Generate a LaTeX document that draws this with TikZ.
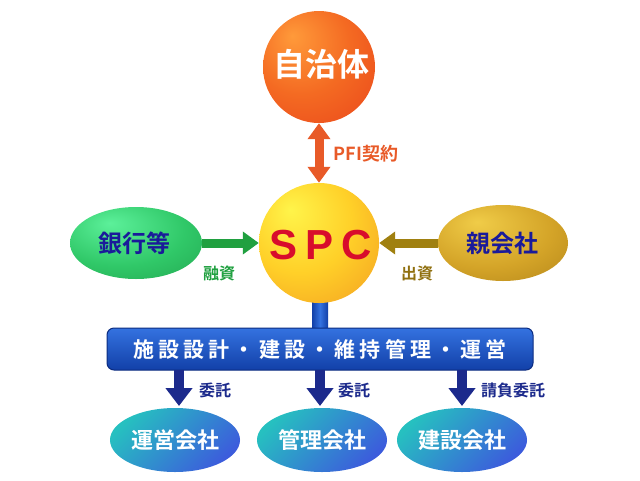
\documentclass[tikz,border=0pt]{standalone}
\usepackage{fontspec}
\newfontfamily\cjk{Noto Sans CJK JP}[BoldFont={Noto Sans CJK JP Bold}]
\newfontfamily\latinb{Liberation Sans}
\usetikzlibrary{arrows.meta,shapes.geometric}
\definecolor{orA}{HTML}{FF9A3A}
\definecolor{orB}{HTML}{F46A22}
\definecolor{orC}{HTML}{E8401A}
\definecolor{yeA}{HTML}{FFF44A}
\definecolor{yeB}{HTML}{FFD028}
\definecolor{yeC}{HTML}{F09020}
\definecolor{grA}{HTML}{5CF09A}
\definecolor{grB}{HTML}{30C868}
\definecolor{grC}{HTML}{1E9A48}
\definecolor{goA}{HTML}{F0CC48}
\definecolor{goB}{HTML}{D4A428}
\definecolor{goC}{HTML}{A87A14}
\definecolor{pficol}{HTML}{E85A28}
\definecolor{fincol}{HTML}{20A040}
\definecolor{invcol}{HTML}{A08010}
\definecolor{invtxt}{HTML}{907010}
\definecolor{navy}{HTML}{1C2A8C}
\definecolor{txtblue}{HTML}{1A1A9A}
\definecolor{barA}{HTML}{3472E0}
\definecolor{barB}{HTML}{1240A8}
\definecolor{barE}{HTML}{0C2C80}
\definecolor{tealA}{HTML}{26C0C0}
\definecolor{tealB}{HTML}{3C5CDC}
\definecolor{spcred}{HTML}{D80C2C}
\pgfdeclareradialshading{orangeball}{\pgfpoint{-12bp}{14bp}}{color(0bp)=(orA); color(22bp)=(orB); color(48bp)=(orC); color(70bp)=(orC)}
\pgfdeclareradialshading{yellowball}{\pgfpoint{-12bp}{14bp}}{color(0bp)=(yeA); color(22bp)=(yeB); color(50bp)=(yeC); color(70bp)=(yeC)}
\pgfdeclareradialshading{greenball}{\pgfpoint{-10bp}{14bp}}{color(0bp)=(grA); color(25bp)=(grB); color(52bp)=(grC); color(70bp)=(grC)}
\pgfdeclareradialshading{goldball}{\pgfpoint{-10bp}{14bp}}{color(0bp)=(goA); color(25bp)=(goB); color(52bp)=(goC); color(70bp)=(goC)}
\tikzset{
  sphere/.style={circle, inner sep=0pt},
  oval/.style={ellipse, inner sep=0pt, minimum width=132pt, minimum height=72pt},
  company/.style={ellipse, inner sep=0pt, minimum width=130pt, minimum height=64pt,
     left color=tealA, right color=tealB, shading angle=45,
     font=\cjk\bfseries\fontsize{22}{22}\selectfont, text=white},
  fatarrow/.style={line width=9pt, -{Triangle[width=22pt,length=16pt]}},
  downarrow/.style={draw=navy, line width=10pt, -{Triangle[width=26pt,length=18pt]}},
  lbl/.style={font=\cjk\bfseries\fontsize{16}{16}\selectfont, inner sep=0pt}
}
\begin{document}
\begin{tikzpicture}[x=1pt, y=-1pt]
\useasboundingbox (0,0) rectangle (640,480);
% spheres
\node[sphere, minimum size=112pt, shading=orangeball] (gov) at (319,67) {};
\node[font=\cjk\bfseries\fontsize{32}{32}\selectfont, text=white] at (321,64) {自治体};
% stem from SPC to bar
\node[rectangle, minimum width=16pt, minimum height=40pt, inner sep=0pt, left color=barB, right color=barB, middle color=barA] (stem) at (320,312) {};
\node[sphere, minimum size=120pt, shading=yellowball] (spc) at (319,243) {};
\node[font=\latinb\bfseries\fontsize{42}{42}\selectfont, text=spcred] at (321,245) {S\hspace{8pt}P\hspace{8pt}C};
% side ovals
\node[oval, shading=greenball] (bank) at (136,243) {};
\node[font=\cjk\bfseries\fontsize{24}{24}\selectfont, text=txtblue] at (134,243) {銀行等};
\node[oval, minimum width=130pt, minimum height=76pt, shading=goldball] (parent) at (503,243) {};
\node[font=\cjk\bfseries\fontsize{24}{24}\selectfont, text=txtblue] at (502,243) {親会社};
% arrows to SPC
\draw[fatarrow, draw=pficol, {Triangle[width=22pt,length=16pt]}-{Triangle[width=22pt,length=16pt]}] (gov.south) -- (spc.north);
\node[lbl, text=pficol, font=\cjk\bfseries\fontsize{18}{18}\selectfont] at (366,154) {PFI契約};
\draw[fatarrow, draw=fincol] (bank.east) -- (spc.west);
\node[lbl, text=fincol] at (219,273) {融資};
\draw[fatarrow, draw=invcol] (parent.west) -- (spc.east);
\node[lbl, text=invtxt] at (417,273) {出資};
% bar
\node[rectangle, rounded corners=7pt, minimum width=426pt, minimum height=42pt, inner sep=0pt,
      top color=barA, bottom color=barB, draw=barE, line width=1pt] (bar) at (320,349) {};
\node[font=\cjk\bfseries\fontsize{21}{21}\selectfont\addfontfeature{LetterSpace=20}, text=white] at (320,349) {施設設計・建設・維持管理・運営};
% bottom companies
\node[company] (op) at (175,440) {運営会社};
\node[company] (mg) at (322,440) {管理会社};
\node[company] (co) at (462,440) {建設会社};
\coordinate (b1) at (179,370);
\coordinate (b2) at (320,370);
\coordinate (b3) at (462,370);
\coordinate (t1) at (179,406);
\coordinate (t2) at (320,406);
\coordinate (t3) at (462,406);
\draw[downarrow] (b1) -- (t1);
\draw[downarrow] (b2) -- (t2);
\draw[downarrow] (b3) -- (t3);
\node[lbl, text=navy] at (215,390) {委託};
\node[lbl, text=navy] at (354,390) {委託};
\node[lbl, text=navy] at (513,390) {請負委託};
\end{tikzpicture}
\end{document}
